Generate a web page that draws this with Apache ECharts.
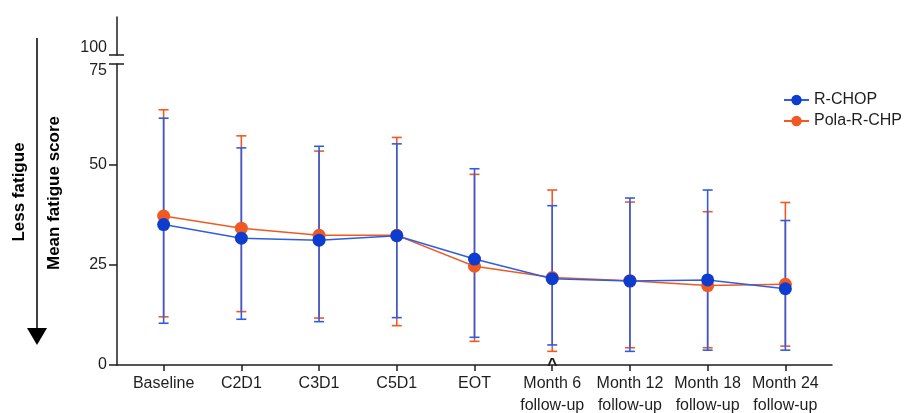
<!DOCTYPE html>
<html>
<head>
<meta charset="utf-8">
<script src="https://cdn.jsdelivr.net/npm/echarts@6/dist/echarts.min.js"></script>
<style>
  html, body { margin: 0; padding: 0; background: #fff; }
  #chart { width: 909px; height: 413px; }
</style>
</head>
<body>
<div id="chart"></div>
<script>
// Visit labels along the x axis
const categories = ['Baseline', 'C2D1', 'C3D1', 'C5D1', 'EOT',
  'Month 6\nfollow-up', 'Month 12\nfollow-up', 'Month 18\nfollow-up', 'Month 24\nfollow-up'];

// R-CHOP: mean fatigue score and error-bar limits
const rchopMean = [35.0, 31.6, 31.1, 32.2, 26.4, 21.5, 20.9, 21.2, 19.0];
const rchopLow  = [10.4, 11.4, 10.8, 11.8, 6.9, 5.0, 3.4, 3.7, 3.7];
const rchopHigh = [61.5, 54.1, 54.5, 55.1, 48.9, 39.7, 41.6, 43.6, 36.0];

// Pola-R-CHP: mean fatigue score and error-bar limits
const polaMean = [37.1, 34.1, 32.3, 32.3, 24.6, 21.8, 21.0, 19.8, 20.1];
const polaLow  = [12.0, 13.3, 11.7, 9.8, 5.9, 3.4, 4.3, 4.3, 4.7];
const polaHigh = [63.6, 57.1, 53.3, 56.7, 47.5, 43.6, 40.6, 38.2, 40.5];

// Y ticks below and above the axis break
const yTicksLower = [0, 25, 50];
const yBreakLower = [75];
const yBreakUpper = [100];

const BLUE_LINE = '#2f5de2';
const BLUE_DOT = '#0d3ccf';
const ORANGE = '#f05a22';
const INK = '#1e1e1e';
const FONT = 'Liberation Sans';

const catIdx = categories.map((_, i) => i);

function errorBars(low, high) {
  return low.map((lo, i) => [i, lo, high[i]]);
}

function renderErr(color) {
  return function (params, api) {
    const x = api.value(0);
    const p1 = api.coord([x, api.value(1)]);
    const p2 = api.coord([x, api.value(2)]);
    const hw = 5;
    const style = { stroke: color, lineWidth: 1.6, fill: null };
    return {
      type: 'group',
      children: [
        { type: 'line', shape: { x1: p1[0], y1: p1[1], x2: p2[0], y2: p2[1] }, style },
        { type: 'line', shape: { x1: p1[0] - hw, y1: p1[1], x2: p1[0] + hw, y2: p1[1] }, style },
        { type: 'line', shape: { x1: p2[0] - hw, y1: p2[1], x2: p2[0] + hw, y2: p2[1] }, style }
      ]
    };
  };
}

const axisLineStyle = { color: INK, width: 1.5 };
const yLabel = { color: INK, fontSize: 16, fontFamily: FONT, margin: 10 };

const chart = echarts.init(document.getElementById('chart'), null, { renderer: 'canvas' });

chart.setOption({
  animation: false,
  backgroundColor: '#fff',
  grid: [
    { left: 117, right: 77, top: 17, height: 38, outerBoundsMode: 'none' },
    { left: 117, right: 77, top: 64, height: 301, outerBoundsMode: 'none' }
  ],
  xAxis: [
    { gridIndex: 0, type: 'value', min: -0.6, max: 8.6, show: false },
    {
      gridIndex: 1, type: 'value', min: -0.6, max: 8.6,
      axisLine: { onZero: false, lineStyle: axisLineStyle },
      axisTick: { customValues: catIdx, length: 6, lineStyle: axisLineStyle },
      axisLabel: {
        customValues: catIdx,
        formatter: v => categories[Math.round(v)],
        margin: 8, lineHeight: 22,
        color: INK, fontSize: 16, fontFamily: FONT
      },
      splitLine: { show: false }
    }
  ],
  yAxis: [
    {
      // upper segment above the break
      gridIndex: 0, type: 'value', min: 100, max: 110,
      axisLine: { show: true, onZero: false, lineStyle: axisLineStyle },
      axisTick: { customValues: yBreakUpper, length: 8, lineStyle: axisLineStyle },
      axisLabel: Object.assign({ customValues: yBreakUpper, verticalAlign: 'bottom', lineHeight: 14 }, yLabel),
      splitLine: { show: false }
    },
    {
      // inner half of the break mark at 100
      gridIndex: 0, type: 'value', min: 100, max: 110, position: 'left',
      axisLine: { show: false, onZero: false },
      axisTick: { inside: true, customValues: yBreakUpper, length: 7, lineStyle: axisLineStyle },
      axisLabel: { show: false },
      splitLine: { show: false }
    },
    {
      // main segment 0-75
      gridIndex: 1, type: 'value', min: 0, max: 75,
      axisLine: { show: true, onZero: false, lineStyle: axisLineStyle },
      axisTick: { customValues: yTicksLower.concat(yBreakLower), length: 8, lineStyle: axisLineStyle },
      axisLabel: Object.assign({ customValues: yTicksLower }, yLabel),
      splitLine: { show: false }
    },
    {
      // inner half of the break mark at 75, and its label
      gridIndex: 1, type: 'value', min: 0, max: 75, position: 'left',
      axisLine: { show: false, onZero: false },
      axisTick: { inside: true, customValues: yBreakLower, length: 7, lineStyle: axisLineStyle },
      axisLabel: Object.assign({ customValues: yBreakLower, verticalAlign: 'top', lineHeight: 14 }, yLabel),
      splitLine: { show: false }
    }
  ],
  legend: {
    orient: 'vertical', left: 783, top: 92, padding: 0,
    itemWidth: 25, itemHeight: 13, itemGap: 5,
    data: ['R-CHOP', 'Pola-R-CHP'],
    textStyle: { color: INK, fontSize: 16, fontFamily: FONT }
  },
  series: [
    {
      name: 'Pola-R-CHP range', type: 'custom', xAxisIndex: 1, yAxisIndex: 2,
      renderItem: renderErr(ORANGE), data: errorBars(polaLow, polaHigh), z: 2
    },
    {
      name: 'R-CHOP range', type: 'custom', xAxisIndex: 1, yAxisIndex: 2,
      renderItem: renderErr(BLUE_LINE), data: errorBars(rchopLow, rchopHigh), z: 3
    },
    {
      name: 'Pola-R-CHP', type: 'line', xAxisIndex: 1, yAxisIndex: 2,
      data: polaMean.map((v, i) => [i, v]),
      symbol: 'circle', symbolSize: 13,
      lineStyle: { color: ORANGE, width: 1.5 },
      itemStyle: { color: ORANGE }, z: 4
    },
    {
      name: 'R-CHOP', type: 'line', xAxisIndex: 1, yAxisIndex: 2,
      data: rchopMean.map((v, i) => [i, v]),
      symbol: 'circle', symbolSize: 13,
      lineStyle: { color: BLUE_LINE, width: 1.5 },
      itemStyle: { color: BLUE_DOT }, z: 5,
      markPoint: {
        symbol: 'circle', symbolSize: 0,
        data: [{ coord: [5, 0] }],
        label: {
          show: true, formatter: '^', position: 'inside', offset: [0, 1],
          color: INK, fontSize: 18, fontWeight: 'bold', fontFamily: FONT
        }
      }
    }
  ],
  graphic: [
    { type: 'line', shape: { x1: 37, y1: 38, x2: 37, y2: 330 }, style: { stroke: '#000', lineWidth: 1.5 } },
    { type: 'polygon', shape: { points: [[27, 328], [47, 328], [37, 345]] }, style: { fill: '#000' } },
    {
      type: 'text', x: 19, y: 192, rotation: Math.PI / 2,
      style: { text: 'Less fatigue', align: 'center', verticalAlign: 'middle',
        font: 'bold 17px "Liberation Sans"', fill: '#000' }
    },
    {
      type: 'text', x: 54, y: 193, rotation: Math.PI / 2,
      style: { text: 'Mean fatigue score', align: 'center', verticalAlign: 'middle',
        font: 'bold 17px "Liberation Sans"', fill: '#000' }
    }
  ]
});
</script>
</body>
</html>
